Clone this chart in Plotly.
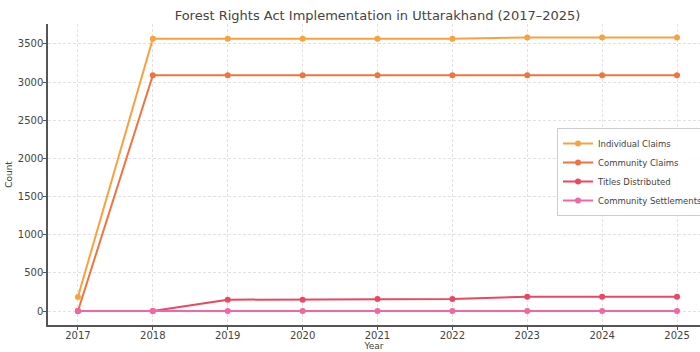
import plotly.graph_objects as go

years = [2017, 2018, 2019, 2020, 2021, 2022, 2023, 2024, 2025]
individual_claims = [185, 3570, 3570, 3570, 3570, 3570, 3585, 3585, 3585]
community_claims = [0, 3090, 3090, 3090, 3090, 3090, 3090, 3090, 3090]
titles_distributed = [0, 0, 148, 148, 157, 157, 187, 187, 187]
community_settlements = [0, 0, 0, 0, 0, 0, 0, 0, 0]

series = [
    ("Individual Claims", individual_claims, "#f7a23e"),
    ("Community Claims", community_claims, "#f1733f"),
    ("Titles Distributed", titles_distributed, "#ea4762"),
    ("Community Settlements", community_settlements, "#f266a6"),
]

fig = go.Figure()
for name, vals, col in series:
    fig.add_trace(go.Scatter(
        x=years, y=vals, name=name, mode="lines+markers",
        line=dict(color=col, width=2),
        marker=dict(color=col, size=6),
    ))

W, H = 700, 352
L, T, B, R = 48, 24, 27, 0
PW, PH = W - L - R, H - T - B
fig.update_layout(
    width=W, height=H,
    margin=dict(l=L, r=R, t=T, b=B, pad=0, autoexpand=False),
    paper_bgcolor="white", plot_bgcolor="white",
    font=dict(family="DejaVu Sans", color="#444", size=10),
    title=dict(text="Forest Rights Act Implementation in Uttarakhand (2017–2025)",
               x=(377.5 - L) / PW, xref="paper", xanchor="center",
               y=1 - 15 / H, yanchor="middle", yref="container",
               font=dict(size=13, color="#444")),
    showlegend=True,
    legend=dict(x=(557 - L) / PW, y=(H - B - 172) / PH,
                xanchor="left", yanchor="middle",
                bgcolor="rgba(255,255,255,0.9)", bordercolor="#ccc", borderwidth=1,
                font=dict(size=8.5, color="#444"), itemwidth=30,
                tracegroupgap=0),
)
fig.update_xaxes(
    range=[2016.6, 2025.307], tickvals=years, ticktext=[str(y) for y in years],
    showgrid=True, gridcolor="#e2e2e2", griddash="3px,2px", gridwidth=1,
    showline=True, linecolor="#555", linewidth=1.5,
    ticks="outside", ticklen=3, tickcolor="#555", ticklabelstandoff=-3,
    zeroline=False,
    title=dict(text="Year", font=dict(size=9, color="#444"), standoff=0),
)
fig.update_yaxes(
    range=[-183.5, 3762], tickvals=[0, 500, 1000, 1500, 2000, 2500, 3000, 3500],
    showgrid=True, gridcolor="#e2e2e2", griddash="3px,2px", gridwidth=1,
    showline=True, linecolor="#555", linewidth=1.5,
    ticks="outside", ticklen=3, tickcolor="#555", ticklabelstandoff=-2,
    zeroline=False,
    title=dict(text="Count", font=dict(size=9, color="#444"), standoff=4),
)
fig.write_html("out.html")
